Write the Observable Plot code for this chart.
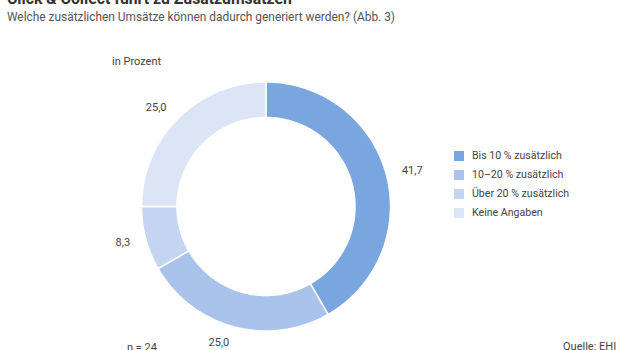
<!DOCTYPE html>
<html>
<head>
<meta charset="utf-8">
<script src="https://cdn.jsdelivr.net/npm/d3@7"></script>
<script src="https://cdn.jsdelivr.net/npm/@observablehq/plot@0.6"></script>
<style>
  html, body { margin: 0; padding: 0; background: #fff; }
  #wrap { position: relative; width: 620px; height: 350px; overflow: hidden; font-family: Roboto, "Liberation Sans", sans-serif; color: #444; }
  #title { position: absolute; left: 7px; top: -11px; font-size: 15.8px; font-weight: 700; color: #333; white-space: nowrap; }
  #subtitle { position: absolute; left: 7px; top: 10px; font-size: 11.9px; color: #555; white-space: nowrap; }
  #chart { position: absolute; left: 0; top: 30px; }
  .note { position: absolute; font-size: 11px; color: #444; white-space: nowrap; }
  #legend { position: absolute; left: 454px; top: 146px; font-size: 10.6px; color: #444; }
  #legend .row { height: 19px; display: flex; align-items: center; }
  #legend .sw { width: 10px; height: 10px; margin-right: 8px; }
</style>
</head>
<body>
<div id="wrap">
  <div id="title"></div>
  <div id="subtitle"></div>
  <div id="chart"></div>
  <div class="note" id="unit" style="left:112px; top:55px;"></div>
  <div class="note" id="n" style="left:127px; top:341px;"></div>
  <div class="note" id="src" style="left:563px; top:340px;"></div>
  <div id="legend"></div>
</div>
<script>
const titleText = "Click & Collect führt zu Zusatzumsätzen";
const subtitleText = "Welche zusätzlichen Umsätze können dadurch generiert werden? (Abb. 3)";
const unitText = "in Prozent";
const nText = "n = 24";
const sourceText = "Quelle: EHI";

const categories = ["Bis 10 % zusätzlich", "10–20 % zusätzlich", "Über 20 % zusätzlich", "Keine Angaben"];
const values = [41.7, 25.0, 8.3, 25.0];
const valueLabels = ["41,7", "25,0", "8,3", "25,0"];
const colors = ["#7aa6df", "#a9c3eb", "#c4d4f1", "#dce5f6"];

document.getElementById("title").textContent = titleText;
document.getElementById("subtitle").textContent = subtitleText;
document.getElementById("unit").textContent = unitText;
document.getElementById("n").textContent = nText;
document.getElementById("src").textContent = sourceText;

const rows = categories.map((c, i) => ({cat: c, value: values[i], label: valueLabels[i]}));
const arcs = d3.pie().sort(null).value(d => d.value)(rows);

const inner = 89 / 124.5;
const labelR = 1.13;
const points = [];
for (const a of arcs) {
  const n = Math.max(4, Math.ceil((a.endAngle - a.startAngle) * 60));
  const seg = [];
  for (let k = 0; k <= n; k++) {
    const t = a.startAngle + (a.endAngle - a.startAngle) * k / n;
    seg.push({cat: a.data.cat, x: Math.sin(t), y: Math.cos(t)});
  }
  for (let k = n; k >= 0; k--) {
    const t = a.startAngle + (a.endAngle - a.startAngle) * k / n;
    seg.push({cat: a.data.cat, x: inner * Math.sin(t), y: inner * Math.cos(t)});
  }
  seg.push(seg[0]);
  points.push(...seg);
}
const labelData = arcs.map(a => {
  const m = (a.startAngle + a.endAngle) / 2;
  return {label: a.data.label, x: labelR * Math.sin(m), y: labelR * Math.cos(m), right: Math.sin(m) > 0};
});

const cx = 265.5, cy = 176, R = 124.5;
const chart = Plot.plot({
  width: 620,
  height: 320,
  margin: 0,
  style: {fontFamily: "Roboto, 'Liberation Sans', sans-serif", fontSize: "11px", color: "#444", background: "transparent"},
  x: {domain: [-1, 1], range: [cx - R, cx + R], axis: null},
  y: {domain: [-1, 1], range: [cy + R, cy - R], axis: null},
  color: {domain: categories, range: colors},
  marks: [
    Plot.line(points, {x: "x", y: "y", z: "cat", fill: "cat", stroke: "white", strokeWidth: 1.5, curve: "linear"}),
    Plot.text(labelData.filter(d => d.right), {x: "x", y: "y", text: "label", textAnchor: "start", fill: "#444"}),
    Plot.text(labelData.filter(d => !d.right), {x: "x", y: "y", text: "label", textAnchor: "end", fill: "#444"})
  ]
});
document.getElementById("chart").appendChild(chart);

const legend = d3.select("#legend");
categories.forEach((c, i) => {
  const row = legend.append("div").attr("class", "row");
  row.append("div").attr("class", "sw").style("background", colors[i]);
  row.append("span").text(c);
});
</script>
</body>
</html>
